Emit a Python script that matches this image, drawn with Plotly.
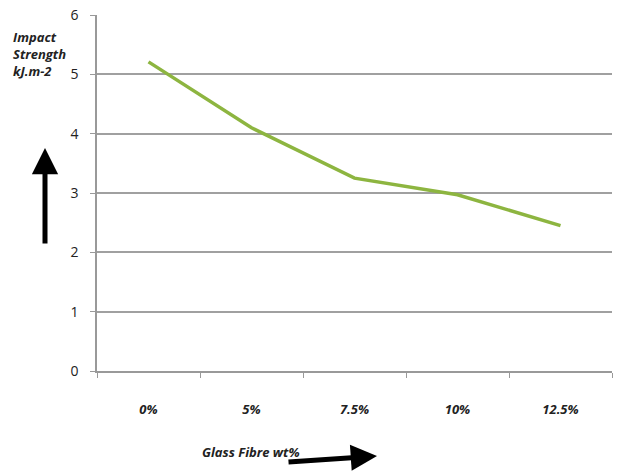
import plotly.graph_objects as go

categories = ["0%", "5%", "7.5%", "10%", "12.5%"]
impact_strength = [5.21, 4.10, 3.25, 2.97, 2.45]
y_ticks = [0, 1, 2, 3, 4, 5, 6]

W, H = 618, 473
ML, MR, MT, MB = 97, 6, 15, 102
PW, PH = W - ML - MR, H - MT - MB

def px(x):
    return (x - ML) / PW

def py(y):
    return (H - MB - y) / PH

fig = go.Figure()
fig.add_trace(go.Scatter(
    x=categories, y=impact_strength, mode="lines",
    line=dict(color="#8DB540", width=3.5), showlegend=False,
))

fig.update_layout(
    width=W, height=H,
    margin=dict(l=ML, r=MR, t=MT, b=MB, autoexpand=False),
    paper_bgcolor="white", plot_bgcolor="white",
    font=dict(family="Open Sans", color="#222"),
    xaxis=dict(
        type="category", tickson="boundaries", ticks="outside", ticklen=5,
        tickcolor="#999", showline=True, linecolor="#999", linewidth=1.5,
        showgrid=False, ticklabelstandoff=26, automargin=False,
        tickfont=dict(size=13, style="italic", weight="bold", color="#222"),
        range=[-0.5, 4.5],
    ),
    yaxis=dict(
        range=[0, 6], tickvals=y_ticks, ticks="outside", ticklen=5,
        tickcolor="#999", showline=True, linecolor="#999", linewidth=1.5,
        showgrid=True, gridcolor="#a0a0a0", gridwidth=1.5, zeroline=False,
        ticklabelstandoff=9, automargin=False,
        tickfont=dict(size=14, color="#222"),
    ),
)

fig.add_annotation(
    x=px(11), y=py(26), xref="paper", yref="paper", xanchor="left", yanchor="top",
    text="Impact<br>Strength<br>kJ.m-2", showarrow=False, align="left",
    font=dict(size=13, style="italic", weight="bold", color="#222"),
)
fig.add_annotation(
    x=px(200), y=py(463), xref="paper", yref="paper",
    text="Glass Fibre wt%", showarrow=False,
    font=dict(size=13, style="italic", weight="bold", color="#222"),
)
fig.add_annotation(
    x=px(45), y=py(148), xref="paper", yref="paper", text="",
    showarrow=True, ax=0, ay=97, arrowhead=2, arrowsize=1.05, arrowwidth=5,
    arrowcolor="black",
)
fig.add_annotation(
    x=px(377), y=py(456), xref="paper", yref="paper", text="",
    showarrow=True, ax=-90, ay=6, arrowhead=2, arrowsize=1.05, arrowwidth=5,
    arrowcolor="black",
)

fig.write_html(
    "out.html",
    config={"displayModeBar": False},
    post_script="document.body.style.margin='0';document.body.style.overflow='hidden';",
)
